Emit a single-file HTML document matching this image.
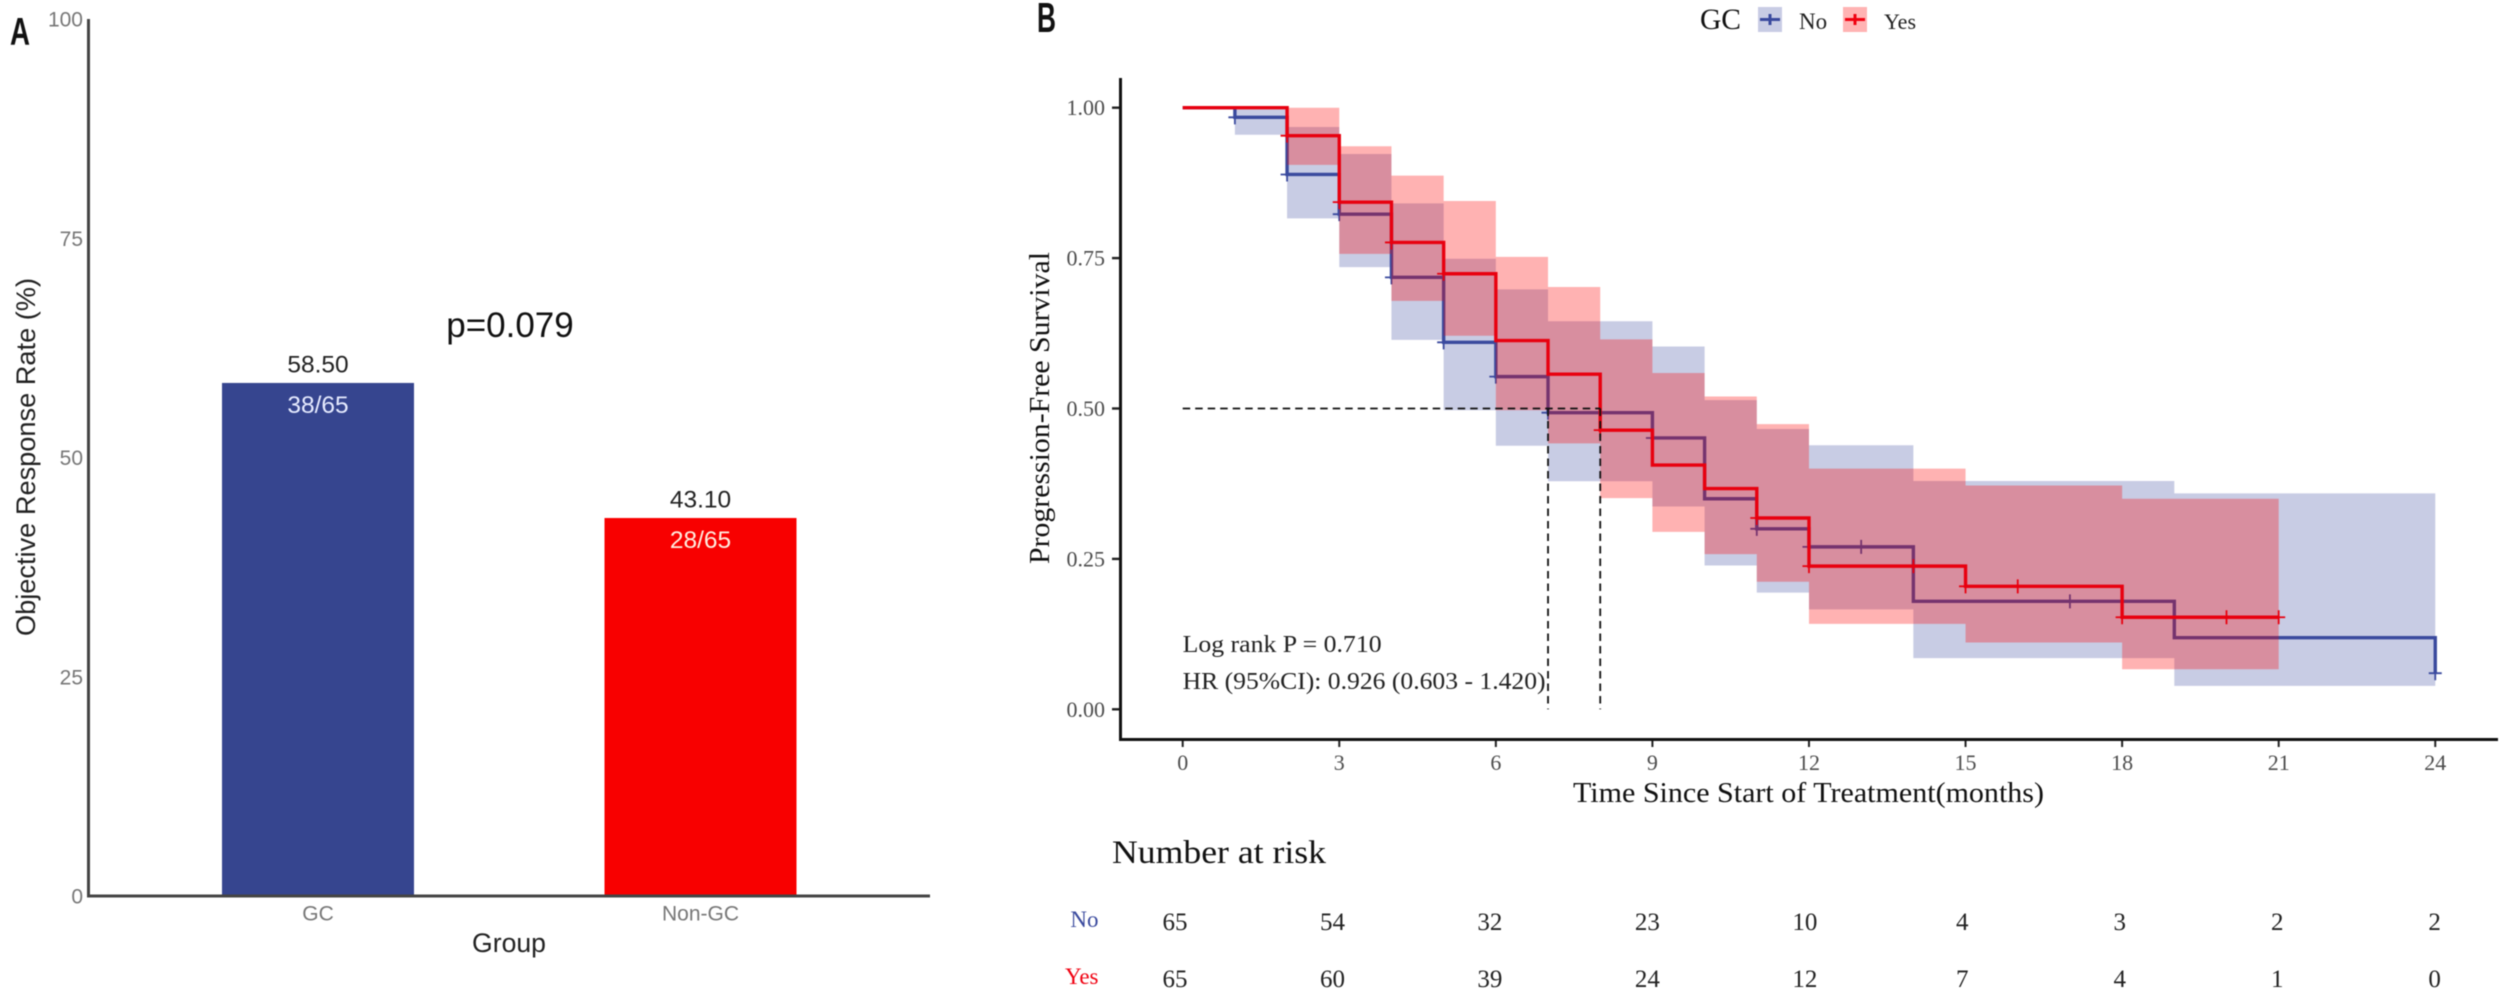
<!DOCTYPE html>
<html lang="en">
<head>
<meta charset="utf-8">
<title>Objective response rate and progression-free survival</title>
<style>
html,body{margin:0;padding:0;background:#fff;}
#fig{display:block;width:2500px;height:990px;filter:blur(0.5px);}
text{font-family:"Liberation Serif",serif;}
.sans{font-family:"Liberation Sans",sans-serif;}
</style>
</head>
<body>
<svg id="fig" xmlns="http://www.w3.org/2000/svg" width="2500" height="990" viewBox="0 0 2500 990">
  <rect width="2500" height="990" fill="#fff"></rect>

  <g id="panelA">
    <text class="sans" x="10" y="45" font-size="39" font-weight="bold" textLength="20" lengthAdjust="spacingAndGlyphs" fill="#111">A</text>
    <g id="barsA"></g>
    <g id="axesA"></g>
    <text class="sans" x="510" y="337" font-size="35" text-anchor="middle" fill="#111">p=0.079</text>
    <text class="sans" transform="translate(35,457) rotate(-90)" font-size="27" text-anchor="middle" textLength="358" lengthAdjust="spacingAndGlyphs" fill="#222">Objective Response Rate (%)</text>
    <text class="sans" x="509" y="952" font-size="26.6" text-anchor="middle" fill="#222">Group</text>
  </g>

  <g id="panelB">
    <text class="sans" x="1037" y="32" font-size="42" font-weight="bold" textLength="19" lengthAdjust="spacingAndGlyphs" fill="#111">B</text>

    <g>
      <text x="1700" y="29" font-size="29.5" fill="#111">GC</text>
      <g>
        <rect x="1758" y="7" width="24" height="25" fill="#c8cce4"></rect>
        <path d="M1760 19.5H1780M1770 14V25" stroke="#3a4a9e" stroke-width="3" fill="none"></path>
        <text x="1799" y="29" font-size="23" fill="#222">No</text>
      </g>
      <g>
        <rect x="1843" y="7" width="24" height="25" fill="#ffb3b3"></rect>
        <path d="M1845 19.5H1865M1855 14V25" stroke="#f00010" stroke-width="3" fill="none"></path>
        <text x="1884" y="29" font-size="22" fill="#222">Yes</text>
      </g>
    </g>

    <g id="plotB"></g>
    <g id="axesB"></g>

    <text transform="translate(1049,408) rotate(-90)" font-size="28" text-anchor="middle" textLength="312" lengthAdjust="spacingAndGlyphs" fill="#111">Progression-Free Survival</text>
    <text x="1573" y="802" font-size="28" textLength="471" lengthAdjust="spacingAndGlyphs" fill="#111">Time Since Start of Treatment(months)</text>
    <text x="1182.6" y="652" font-size="24" textLength="199" lengthAdjust="spacingAndGlyphs" fill="#222">Log rank P = 0.710</text>
    <text x="1182.6" y="689" font-size="24" textLength="363" lengthAdjust="spacingAndGlyphs" fill="#222">HR (95%CI): 0.926 (0.603 - 1.420)</text>

    <text x="1112" y="863" font-size="33" textLength="214" lengthAdjust="spacingAndGlyphs" fill="#111">Number at risk</text>
    <text x="1098.5" y="927" font-size="23" text-anchor="end" fill="#3a4a9e">No</text>
    <text x="1098.5" y="984" font-size="23" text-anchor="end" fill="#f00010">Yes</text>
    <g id="riskTable"></g>
  </g>
</svg>

<script>
// Panel A data
const groups = ['GC', 'Non-GC'];
const responseRates = [58.5, 43.1];
const rateLabels = ['58.50', '43.10'];
const fractionLabels = ['38/65', '28/65'];
const barColors = ['#36458f', '#f80000'];
const fractionColors = ['#e6ebff', '#ffeee0'];
const rateTicks = [0, 25, 50, 75, 100];

// Panel B data
const monthTicks = [0, 3, 6, 9, 12, 15, 18, 21, 24];
const survivalTicks = ['0.00', '0.25', '0.50', '0.75', '1.00'];
const noTimes = [0, 1, 2, 3, 4, 5, 6, 7, 9, 10, 11, 12, 14, 19];
const noSurvival = [1, .984, .889, .823, .718, .610, .553, .493, .451, .350, .300, .270, .1795, .119];
const noUpper = [1, 1, .968, .923, .841, .749, .698, .645, .603, .514, .466, .439, .3795, .359];
const noLower = [1, .955, .816, .735, .614, .497, .438, .379, .337, .239, .194, .166, .085, .039];
const noEnd = 24;
const noFinal = 0.06;
const noCensorTimes = [1, 2, 3, 4, 5, 6, 7, 8, 9, 11, 12, 13, 17, 24];
const noCensorValues = [.984, .889, .823, .718, .610, .553, .493, .493, .451, .300, .270, .270, .1795, .06];

const yesTimes = [0, 2, 3, 4, 5, 6, 7, 8, 9, 10, 11, 12, 15, 18];
const yesSurvival = [1, .9535, .843, .776, .724, .613, .557, .464, .406, .367, .318, .238, .2044, .153];
const yesUpper = [1, 1, .936, .887, .845, .752, .702, .615, .559, .520, .474, .400, .372, .350];
const yesLower = [1, .905, .757, .679, .621, .497, .442, .351, .295, .258, .212, .142, .111, .0665];
const yesEnd = 21;
const yesFinal = 0.153;
const yesCensorTimes = [2, 3, 4, 5, 8, 11, 12, 14, 15, 16, 18, 20, 21];
const yesCensorValues = [.9535, .843, .776, .724, .464, .318, .238, .238, .2044, .2044, .153, .153, .153];

const medianLevel = 0.5;
const medianTimes = [7, 8];

const riskNo = [65, 54, 32, 23, 10, 4, 3, 2, 2];
const riskYes = [65, 60, 39, 24, 12, 7, 4, 1, 0];

const NS = 'http://www.w3.org/2000/svg';
function mk(tag, parent, props, txt) {
  const el = document.createElementNS(NS, tag);
  for (const k in props) el.setAttribute(k, props[k]);
  if (txt !== undefined) el.textContent = txt;
  parent.appendChild(el);
  return el;
}

// Panel A scales
const xA = i => 318 + i * 382.5;
const yA = v => 896 - v * 8.77;
const barsA = document.getElementById('barsA');
const axesA = document.getElementById('axesA');

groups.forEach((g, i) => {
  const bar = mk('rect', barsA, {x: xA(i) - 96, y: yA(responseRates[i]), width: 192, height: yA(0) - yA(responseRates[i]), fill: barColors[i]});
  
  
  const val = mk('text', barsA, {x: xA(i), y: yA(responseRates[i]) - 10.5, 'font-size': 24.5, 'text-anchor': 'middle', fill: '#222', class: 'sans'}, rateLabels[i]);
  
  
  const frac = mk('text', barsA, {x: xA(i), y: yA(responseRates[i]) + 30, 'font-size': 24.5, 'text-anchor': 'middle', fill: fractionColors[i], class: 'sans'}, fractionLabels[i]);
  
  
  const tick = mk('text', axesA, {x: xA(i), y: 920.5, 'font-size': 21, 'text-anchor': 'middle', fill: '#777', class: 'sans'}, g);
  
  
});
rateTicks.forEach(v => {
  const t = mk('text', axesA, {x: 83, y: yA(v) + 7.5, 'font-size': 21, 'text-anchor': 'end', fill: '#777', class: 'sans'}, String(v));
  
  
});
const axAy = mk('line', axesA, {x1: 88.5, x2: 88.5, y1: yA(100), y2: yA(0) + 1.5, stroke: '#444', 'stroke-width': 3});


const axAx = mk('line', axesA, {x1: 87, x2: 930, y1: yA(0), y2: yA(0), stroke: '#444', 'stroke-width': 3});



// Panel B scales
const xB = t => 1182.7 + t * 52.19;
const yB = s => 709.3 - s * 601.6;
const plotB = document.getElementById('plotB');
const axesB = document.getElementById('axesB');

function bandPath(times, upper, lower, end) {
  const top = [], bot = [];
  times.forEach((t, i) => {
    const t2 = i + 1 < times.length ? times[i + 1] : end;
    top.push(xB(t) + ' ' + yB(upper[i]), xB(t2) + ' ' + yB(upper[i]));
    bot.unshift(xB(t2) + ' ' + yB(lower[i]), xB(t) + ' ' + yB(lower[i]));
  });
  return 'M' + top.concat(bot).join('L') + 'Z';
}
function linePath(times, surv, end, finalVal) {
  const pts = [];
  times.forEach((t, i) => {
    const t2 = i + 1 < times.length ? times[i + 1] : end;
    pts.push(xB(t) + ' ' + yB(surv[i]), xB(t2) + ' ' + yB(surv[i]));
  });
  pts.push(xB(end) + ' ' + yB(finalVal));
  return 'M' + pts.join('L');
}
function censorPath(ts, vs) {
  return ts.map((t, i) => 'M' + (xB(t) - 6.5) + ' ' + yB(vs[i]) + 'H' + (xB(t) + 6.5) + 'M' + xB(t) + ' ' + (yB(vs[i]) - 7) + 'V' + (yB(vs[i]) + 7)).join('');
}

const bandNo = mk('path', plotB, {d: bandPath(noTimes, noUpper, noLower, noEnd), fill: 'rgb(57,73,158)', 'fill-opacity': .28});


const lineNo = mk('path', plotB, {d: linePath(noTimes, noSurvival, noEnd, noFinal), fill: 'none', stroke: '#3a4a9e', 'stroke-width': 3.4});


const censorNo = mk('path', plotB, {d: censorPath(noCensorTimes, noCensorValues), fill: 'none', stroke: '#3a4a9e', 'stroke-width': 1.8});



const bandYes = mk('path', plotB, {d: bandPath(yesTimes, yesUpper, yesLower, yesEnd), fill: 'rgb(255,0,0)', 'fill-opacity': .3});


const lineYes = mk('path', plotB, {d: linePath(yesTimes, yesSurvival, yesEnd, yesFinal), fill: 'none', stroke: '#e8000f', 'stroke-width': 3.4});


const censorYes = mk('path', plotB, {d: censorPath(yesCensorTimes, yesCensorValues), fill: 'none', stroke: '#e8000f', 'stroke-width': 1.8});



const medH = mk('line', plotB, {x1: xB(0), x2: xB(Math.max(...medianTimes)), y1: yB(medianLevel), y2: yB(medianLevel), stroke: '#111', 'stroke-width': 1.8, 'stroke-dasharray': '7.5 5'});


medianTimes.forEach(t => {
  const v = mk('line', plotB, {x1: xB(t), x2: xB(t), y1: yB(medianLevel), y2: yB(0), stroke: '#111', 'stroke-width': 1.8, 'stroke-dasharray': '7.5 5'});
  
  
});

monthTicks.forEach(m => {
  const tk = mk('line', axesB, {x1: xB(m), x2: xB(m), y1: 739, y2: 747, stroke: '#222', 'stroke-width': 2});
  
  
  const lb = mk('text', axesB, {x: xB(m), y: 770, 'font-size': 22, 'text-anchor': 'middle', fill: '#4d4d4d'}, String(m));
  
  
});
survivalTicks.forEach(s => {
  const v = parseFloat(s);
  const tk = mk('line', axesB, {x1: 1112, x2: 1120, y1: yB(v), y2: yB(v), stroke: '#222', 'stroke-width': 2.4});
  
  
  const lb = mk('text', axesB, {x: 1105, y: yB(v) + 7.5, 'font-size': 22, 'text-anchor': 'end', fill: '#4d4d4d'}, s);
  
  
});
const axBy = mk('line', axesB, {x1: 1120.5, x2: 1120.5, y1: 78, y2: 741, stroke: '#111', 'stroke-width': 3});


const axBx = mk('line', axesB, {x1: 1119, x2: 2498, y1: 739.5, y2: 739.5, stroke: '#111', 'stroke-width': 3});



// Risk table
const riskTable = document.getElementById('riskTable');
const xRisk = i => 1175 + i * 157.46;
riskNo.forEach((n, i) => {
  const c = mk('text', riskTable, {x: xRisk(i), y: 930, 'font-size': 25, 'text-anchor': 'middle', fill: '#222'}, String(n));
  
  
});
riskYes.forEach((n, i) => {
  const c = mk('text', riskTable, {x: xRisk(i), y: 987, 'font-size': 25, 'text-anchor': 'middle', fill: '#222'}, String(n));
  
  
});
</script>
</body>
</html>
